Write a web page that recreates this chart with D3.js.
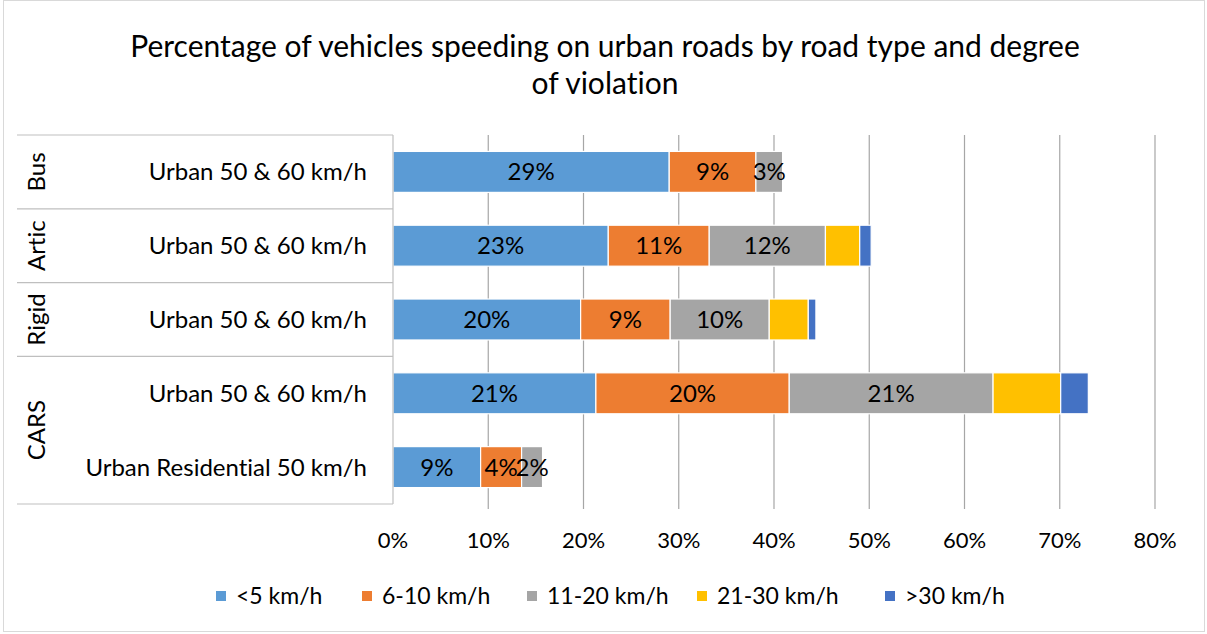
<!DOCTYPE html>
<html>
<head>
<meta charset="utf-8">
<title>Speeding on urban roads</title>
<script src="https://cdn.jsdelivr.net/npm/d3@7"></script>
<style>
	body { margin: 0; background: #fff; }
	svg text { font-family: Lato, "Open Sans", sans-serif; fill: #000; font-variant-ligatures: none; }
</style>
</head>
<body>
<svg id="chart" width="1207" height="634"></svg>
<script>
	// data (percent of vehicles)
	const groups = ['Bus', 'Artic', 'Rigid', 'CARS', 'CARS'];
	const roadTypes = ['Urban 50 & 60 km/h', 'Urban 50 & 60 km/h', 'Urban 50 & 60 km/h',
		'Urban 50 & 60 km/h', 'Urban Residential 50 km/h'];
	const seriesNames = ['<5 km/h', '6-10 km/h', '11-20 km/h', '21-30 km/h', '>30 km/h'];
	const under5 = [29.0, 22.6, 19.7, 21.3, 9.2];
	const kmh6to10 = [9.1, 10.6, 9.4, 20.3, 4.3];
	const kmh11to20 = [2.8, 12.2, 10.4, 21.4, 2.2];
	const kmh21to30 = [0, 3.6, 4.1, 7.1, 0];
	const over30 = [0, 1.2, 0.8, 2.9, 0];
	const xTicks = [0, 10, 20, 30, 40, 50, 60, 70, 80];
	const colors = ['#5B9BD5', '#ED7D31', '#A5A5A5', '#FFC000', '#4472C4'];
	const labelledSeries = 3; // only first three series carry data labels

	const svg = d3.select('#chart');

	// outer chart border
	svg.append('rect')
		.attr('x', 3.5).attr('y', 0.5)
		.attr('width', 1201).attr('height', 631)
		.attr('fill', 'none').attr('stroke', '#d9d9d9');

	// title
	svg.append('text')
		.attr('x', 605).attr('text-anchor', 'middle')
		.style('font-size', '30px')
		.selectAll('tspan')
		.data(['Percentage of vehicles speeding on urban roads by road type and degree', 'of violation'])
		.join('tspan')
		.attr('x', 605)
		.attr('y', (d, i) => 57 + i * 37)
		.text(d => d);

	const rows = roadTypes.map((r, i) => ({
		key: i, group: groups[i], road: r,
		values: [under5[i], kmh6to10[i], kmh11to20[i], kmh21to30[i], over30[i]]
	}));

	const x = d3.scaleLinear().domain([0, 80]).range([393, 1155]);
	const y = d3.scaleBand().domain(rows.map(d => d.key)).range([135, 504]).paddingInner(0.445).paddingOuter(0.2225);

	// gridlines
	svg.append('g')
		.selectAll('line')
		.data(xTicks.slice(1))
		.join('line')
		.attr('x1', d => x(d)).attr('x2', d => x(d))
		.attr('y1', 135).attr('y2', 509)
		.attr('stroke', '#a6a6a6').attr('stroke-width', 1.2);

	// stacked bars
	const stack = d3.stack()
		.keys(d3.range(seriesNames.length))
		.value((d, k) => d.values[k]);
	const layers = stack(rows);

	const layer = svg.append('g')
		.selectAll('g')
		.data(layers)
		.join('g')
		.attr('fill', (d, i) => colors[i]);

	layer.selectAll('rect')
		.data(d => d.filter(s => s[1] - s[0] > 0))
		.join('rect')
		.attr('x', d => x(d[0]))
		.attr('y', d => y(d.data.key))
		.attr('width', d => x(d[1]) - x(d[0]))
		.attr('height', y.bandwidth())
		.attr('stroke', '#fff')
		.attr('stroke-width', 1.2);

	// data labels
	svg.append('g')
		.selectAll('g')
		.data(layers.slice(0, labelledSeries))
		.join('g')
		.selectAll('text')
		.data(d => d.filter(s => s[1] - s[0] > 0))
		.join('text')
		.attr('x', d => (x(d[0]) + x(d[1])) / 2)
		.attr('y', d => y(d.data.key) + y.bandwidth() / 2)
		.attr('dy', '0.35em')
		.attr('text-anchor', 'middle')
		.style('font-size', '24px')
		.text(d => Math.round(d[1] - d[0]) + '%');

	// category axis (two levels)
	const axisG = svg.append('g');
	axisG.append('line')
		.attr('x1', 393).attr('x2', 393).attr('y1', 135).attr('y2', 504)
		.attr('stroke', '#bfbfbf').attr('stroke-width', 1.2);

	const groupSpans = [];
	rows.forEach(r => {
		const last = groupSpans[groupSpans.length - 1];
		if (last && last.name === r.group) last.end = r.key;
		else groupSpans.push({ name: r.group, start: r.key, end: r.key });
	});
	const step = y.step();
	const bandTop = k => y(k) - y.paddingInner() * step / 2;

	const dividers = groupSpans.map(g => bandTop(g.start)).concat([504]);
	axisG.selectAll('line.div')
		.data(dividers)
		.join('line')
		.attr('class', 'div')
		.attr('x1', 17).attr('x2', 393)
		.attr('y1', d => d).attr('y2', d => d)
		.attr('stroke', '#bfbfbf').attr('stroke-width', 1.2);

	axisG.selectAll('text.road')
		.data(rows)
		.join('text')
		.attr('class', 'road')
		.attr('x', 367)
		.attr('y', d => y(d.key) + y.bandwidth() / 2)
		.attr('dy', '0.35em')
		.attr('text-anchor', 'end')
		.style('font-size', '24px')
		.text(d => d.road);

	axisG.selectAll('text.group')
		.data(groupSpans)
		.join('text')
		.attr('class', 'group')
		.attr('transform', d => {
			const cy = (bandTop(d.start) + bandTop(d.end) + step) / 2;
			return `translate(37,${cy}) rotate(-90)`;
		})
		.attr('dy', '0.35em')
		.attr('text-anchor', 'middle')
		.style('font-size', '24px')
		.text(d => d.name);

	// value axis labels
	svg.append('g')
		.selectAll('text')
		.data(xTicks)
		.join('text')
		.attr('x', d => x(d))
		.attr('y', 540)
		.attr('dy', '0.35em')
		.attr('text-anchor', 'middle')
		.style('font-size', '22px')
		.text(d => d + '%');

	// legend
	const legendX = [216, 362, 527, 697, 885];
	const legend = svg.append('g')
		.selectAll('g')
		.data(seriesNames)
		.join('g')
		.attr('transform', (d, i) => `translate(${legendX[i]},596)`);
	legend.append('rect')
		.attr('x', 0).attr('y', -5)
		.attr('width', 10).attr('height', 10)
		.attr('fill', (d, i) => colors[i]);
	legend.append('text')
		.attr('x', 20)
		.attr('dy', '0.35em')
		.style('font-size', '23px')
		.text(d => d);
</script>
</body>
</html>
